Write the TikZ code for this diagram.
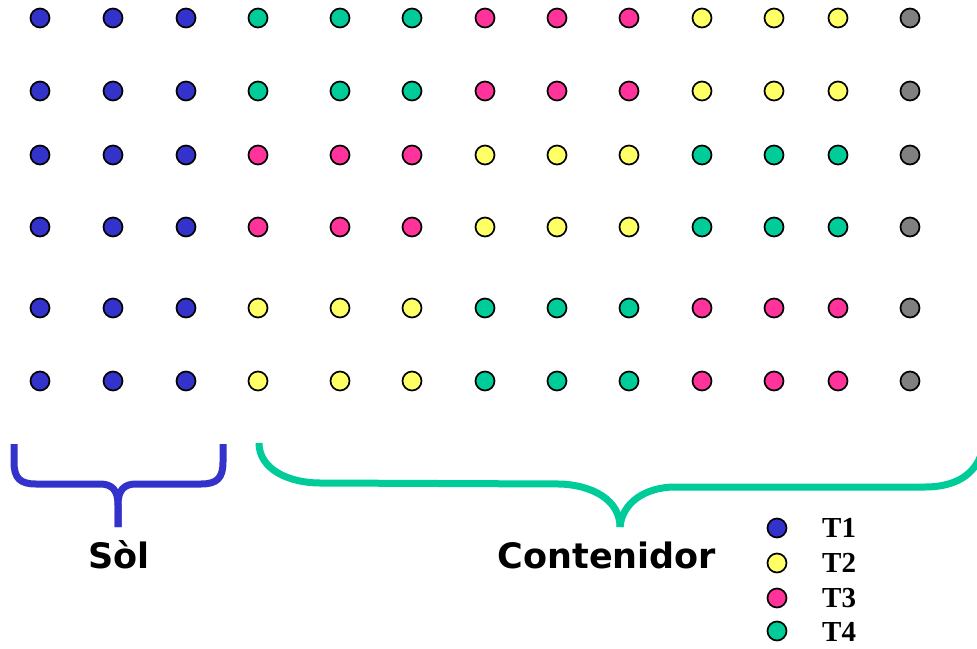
\documentclass[tikz,border=0pt]{standalone}
\usepackage{fontspec}
\setmainfont{Liberation Serif}
\newfontfamily\labfont{DejaVu Sans}
\definecolor{tone}{HTML}{3333CC}
\definecolor{ttwo}{HTML}{FFFF66}
\definecolor{tthree}{HTML}{FF3399}
\definecolor{tfour}{HTML}{00CC99}
\definecolor{tgray}{HTML}{808080}
\begin{document}
\begin{tikzpicture}[x=1pt,y=-1pt,
  dot/.style={circle,draw=black,line width=1.7pt,minimum size=19pt,inner sep=0pt},
  bracelineA/.style={draw=tone,line width=7pt},
  bracelineB/.style={draw=tfour,line width=7pt},
  biglabel/.style={font=\labfont\bfseries\fontsize{35}{40}\selectfont,inner sep=0pt,anchor=base},
  leglabel/.style={font=\bfseries\fontsize{29}{34}\selectfont,inner sep=0pt,anchor=base west}]
\useasboundingbox (0,0) rectangle (977,648);
\clip (0,0) rectangle (977,648);
\def\xs{{40,113,186,258,340,412,485,557,629,702,774,838,910}}
\def\ys{{18,91,155,227,308,381}}
% row colour patterns
\foreach \r/\pat in {0/{tone,tone,tone,tfour,tfour,tfour,tthree,tthree,tthree,ttwo,ttwo,ttwo,tgray},
                     1/{tone,tone,tone,tfour,tfour,tfour,tthree,tthree,tthree,ttwo,ttwo,ttwo,tgray},
                     2/{tone,tone,tone,tthree,tthree,tthree,ttwo,ttwo,ttwo,tfour,tfour,tfour,tgray},
                     3/{tone,tone,tone,tthree,tthree,tthree,ttwo,ttwo,ttwo,tfour,tfour,tfour,tgray},
                     4/{tone,tone,tone,ttwo,ttwo,ttwo,tfour,tfour,tfour,tthree,tthree,tthree,tgray},
                     5/{tone,tone,tone,ttwo,ttwo,ttwo,tfour,tfour,tfour,tthree,tthree,tthree,tgray}}{
  \foreach \c [count=\i from 0] in \pat {
    \pgfmathsetmacro{\px}{\xs[\i]}
    \pgfmathsetmacro{\py}{\ys[\r]}
    \node[dot,fill=\c] (d-\r-\i) at (\px,\py) {};
  }
}
% braces
\coordinate (soltip) at (118,527);
\coordinate (conttip) at (620,527);
\draw[bracelineA] (14,444) -- (14,462) .. controls (14,478) and (20,484) .. (36,484) -- (100,484)
   .. controls (112,484) and (118,490) .. (118,505) -- (soltip);
\draw[bracelineA] (223,444) -- (223,462) .. controls (223,478) and (217,484) .. (201,484) -- (136,484)
   .. controls (124,484) and (118,490) .. (118,505) -- (soltip);
\draw[bracelineB] (259,443) .. controls (259,470) and (290,483) .. (320,483) -- (560,484)
   .. controls (592,485) and (620,500) .. (conttip);
\draw[bracelineB] (conttip) .. controls (622,503) and (645,487) .. (675,487) -- (925,487)
   .. controls (955,487) and (975,475) .. (982,452);
% labels
\node[biglabel] (sol) at (119,568) {Sòl};
\node[biglabel] (cont) at (607,568) {Contenidor};
% legend
\node[dot,fill=tone]   (l1) at (777,528) {};
\node[dot,fill=ttwo]   (l2) at (777,563) {};
\node[dot,fill=tthree] (l3) at (777,598) {};
\node[dot,fill=tfour]  (l4) at (777,631) {};
\node[leglabel] (t1) at (822,537) {T1};
\node[leglabel] (t2) at (822,572) {T2};
\node[leglabel] (t3) at (822,607) {T3};
\node[leglabel] (t4) at (822,641) {T4};
\end{tikzpicture}
\end{document}
